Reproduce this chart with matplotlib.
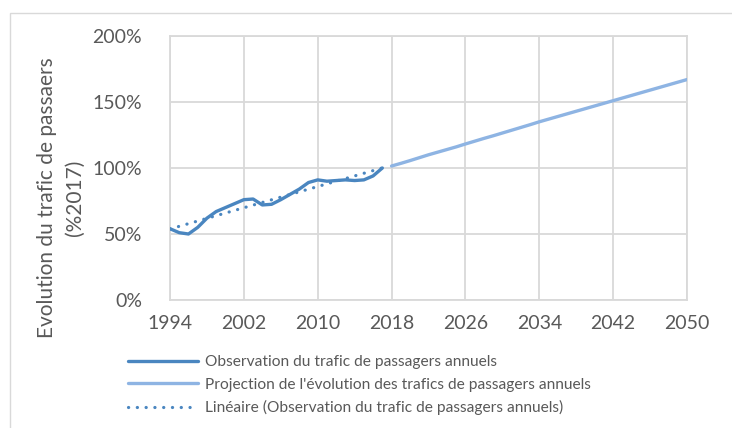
import numpy as np
import matplotlib
matplotlib.use("Agg")
import matplotlib.pyplot as plt
from matplotlib.patches import Rectangle
from matplotlib.ticker import FuncFormatter

plt.rcParams['font.family'] = ['Lato', 'DejaVu Sans']

obs_years = list(range(1994, 2018))
obs_values = [54, 51, 50, 55, 62, 67, 70, 73, 76, 76.5, 72, 72.5,
              76, 80, 84, 89, 91, 90, 90.5, 91, 90.5, 91, 94, 100]

proj_years = list(range(2018, 2051))
proj_values = [101.5, 103.5, 105.6, 107.8, 110, 112, 114, 116, 118.2, 120.3,
               122.4, 124.4, 126.5, 128.6, 130.7, 132.8, 135, 137, 139, 141,
               143, 145, 147, 149, 151, 153, 155, 157, 159, 161, 163, 165, 167]

x_ticks = [1994, 2002, 2010, 2018, 2026, 2034, 2042, 2050]
y_ticks = [0, 50, 100, 150, 200]

label_obs = "Observation du trafic de passagers annuels"
label_proj = "Projection de l'évolution des trafics de passagers annuels"
label_lin = "Linéaire (Observation du trafic de passagers annuels)"
ylabel = "Evolution du trafic de passaers\n(%2017)"

W, H = 732, 428
fig = plt.figure(figsize=(W / 100, H / 100), dpi=100)
ax = fig.add_axes([170 / W, 1 - 300 / H, (687 - 170) / W, (300 - 36) / H])

c_obs = '#4A86C0'
c_proj = '#8EB4E3'
grid_c = '#D9D9D9'
text_c = '#595959'

# linear trendline of observed data (least squares, as in the spreadsheet)
coef = np.polyfit(obs_years, obs_values, 1)
trend = np.polyval(coef, obs_years)

ax.plot(proj_years, proj_values, color=c_proj, lw=2.4, solid_capstyle='round',
        label=label_proj, zorder=3)
ax.plot(obs_years, obs_values, color=c_obs, lw=2.4, solid_capstyle='round',
        solid_joinstyle='round', label=label_obs, zorder=4)
ax.plot(obs_years, trend, color=c_obs, lw=2.3, ls=(0, (0.05, 2.7)),
        dash_capstyle='round', label=label_lin, zorder=5)

ax.set_xlim(1994, 2050)
ax.set_ylim(0, 200)
ax.set_xticks(x_ticks)
ax.set_yticks(y_ticks)
ax.yaxis.set_major_formatter(FuncFormatter(lambda v, p: f"{int(v)}%"))
ax.grid(True, color=grid_c, lw=1.3)
ax.set_axisbelow(True)
for s in ax.spines.values():
    s.set_color(grid_c)
    s.set_linewidth(1.3)
ax.tick_params(length=0, labelsize=14, colors=text_c)
ax.tick_params(axis='x', pad=11)
ax.tick_params(axis='y', pad=20)

fig.text(61 / W, 1 - 198 / H, ylabel, rotation=90, ha='center', va='center',
         fontsize=15, color=text_c, multialignment='center', linespacing=1.5)

h, l = ax.get_legend_handles_labels()
order = [1, 0, 2]
leg = fig.legend([h[i] for i in order], [l[i] for i in order],
                 loc='upper left', bbox_to_anchor=(128 / W, 1 - 355 / H),
                 frameon=False, fontsize=11.2, handlelength=4.5,
                 handletextpad=0.45, labelspacing=0.55, borderaxespad=0,
                 borderpad=0)
for t in leg.get_texts():
    t.set_color(text_c)

fig.add_artist(Rectangle((9.5 / W, -0.1), 2, 1.1 - 13 / H, fill=False,
                         edgecolor=grid_c, lw=1.0, transform=fig.transFigure,
                         clip_on=False))

fig.savefig('out.png', dpi=100)
